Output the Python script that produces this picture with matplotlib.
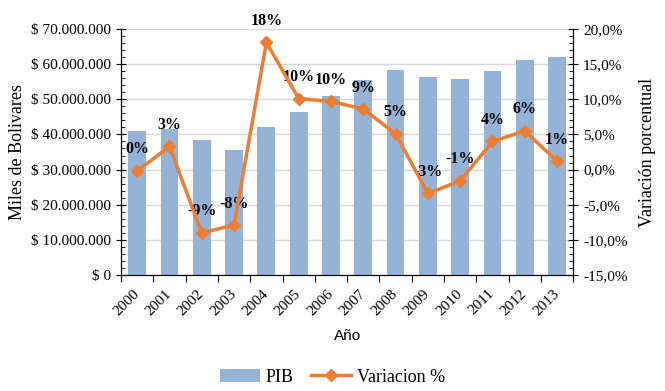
import numpy as np
import matplotlib
matplotlib.use("Agg")
import matplotlib.pyplot as plt
import matplotlib.ticker as mticker

# data
years = ["2000", "2001", "2002", "2003", "2004", "2005", "2006",
         "2007", "2008", "2009", "2010", "2011", "2012", "2013"]
pib = [41.0e6, 41.6e6, 38.4e6, 35.6e6, 42.1e6, 46.4e6, 50.9e6,
       55.5e6, 58.3e6, 56.3e6, 55.8e6, 58.0e6, 61.2e6, 62.0e6]
variacion = [-0.2, 3.3, -9.0, -7.9, 18.1, 10.1, 9.7,
             8.6, 5.1, -3.4, -1.6, 4.0, 5.5, 1.2]
etiquetas = ["0%", "3%", "-9%", "-8%", "18%", "10%", "10%",
             "9%", "5%", "-3%", "-1%", "4%", "6%", "1%"]

bar_color = "#95B3D7"
line_color = "#ED7D31"
serif = "Liberation Serif"

plt.rcParams["font.family"] = serif

fig = plt.figure(figsize=(6.65, 3.91), dpi=100)
ax = fig.add_axes([0.182, 0.2967, 0.680, 0.6291])
ax2 = ax.twinx()

x = np.arange(len(years))
ax.bar(x, pib, width=0.55, color=bar_color, zorder=2, label="PIB")
ax.set_ylim(0, 70e6)
ax.set_xlim(-0.5, len(years) - 0.5)

ax.yaxis.set_major_locator(mticker.MultipleLocator(10e6))
ax.yaxis.set_minor_locator(mticker.MultipleLocator(2e6))
ax.yaxis.set_major_formatter(mticker.FuncFormatter(
    lambda v, p: "$ " + format(int(round(v)), ",").replace(",", ".")))
ax.grid(axis="y", color="#d9d9d9", linewidth=1, zorder=0)
ax.set_axisbelow(True)

# x ticks on category boundaries, labels on centers
ax.set_xticks(np.arange(-0.5, len(years), 1.0))
ax.set_xticklabels([])
ax.set_xticks(x, minor=True)
ax.set_xticklabels(years, minor=True, rotation=45, ha="right",
                   va="center", rotation_mode="anchor", fontsize=11)
ax.tick_params(axis="x", which="major", direction="out", length=5)
ax.tick_params(axis="x", which="minor", length=0, pad=12)

ax.tick_params(axis="y", which="major", direction="inout", length=7,
               labelsize=11)
ax.tick_params(axis="y", which="minor", direction="in", length=3)

line, = ax2.plot(x, variacion, color=line_color, linewidth=2.5,
                 marker="D", markersize=6, zorder=5, label="Variacion %")
for xi, v, t in zip(x, variacion, etiquetas):
    ax2.annotate(t, (xi, v), xytext=(0, 15.5), textcoords="offset points",
                 ha="center", va="center", fontsize=11.5, fontweight="bold")
ax2.set_ylim(-15, 20)
ax2.yaxis.set_major_locator(mticker.MultipleLocator(5))
ax2.yaxis.set_minor_locator(mticker.MultipleLocator(1))
ax2.yaxis.set_major_formatter(mticker.FuncFormatter(
    lambda v, p: ("%.1f%%" % v).replace(".", ",")))
ax2.tick_params(axis="y", which="major", direction="inout", length=7,
                labelsize=11)
ax2.tick_params(axis="y", which="minor", direction="in", length=3)

for a in (ax, ax2):
    a.spines["top"].set_visible(False)

ax.set_ylabel("Miles de Bolivares", fontsize=13, labelpad=4)
ax2.set_ylabel("Variación porcentual", fontsize=13, labelpad=8)
ax.set_xlabel("Año", fontsize=11, family="Liberation Sans", labelpad=8)

handles = [ax.containers[0], line]
fig.legend(handles, ["PIB", "Variacion %"], loc="center",
           bbox_to_anchor=(0.5, 0.035), ncol=2, frameon=False, fontsize=13,
           handlelength=2.2, columnspacing=1.0, handletextpad=0.3)

fig.savefig("out.png", dpi=100)
